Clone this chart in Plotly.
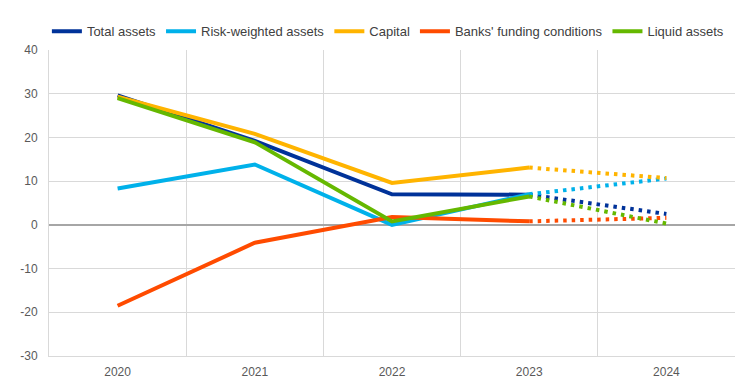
import plotly.graph_objects as go

years = ["2020", "2021", "2022", "2023", "2024"]
total_assets = [29.6, 19.2, 7.0, 6.9, 2.5]
risk_weighted = [8.3, 13.8, 0.0, 7.0, 10.6]
capital = [29.3, 20.8, 9.6, 13.1, 10.7]
funding = [-18.5, -4.1, 1.8, 0.8, 1.6]
liquid = [29.0, 18.9, 0.8, 6.5, 0.3]

y_tickvals = [-30, -20, -10, 0, 10, 20, 30, 40]
y_ticktext = ["-30", "-20", "-10", "0", "10", "20", "30", "40"]

names = ["Total assets", "Risk-weighted assets", "Capital", "Banks' funding conditions", "Liquid assets"]
colors = ["#003299", "#00b1ea", "#ffb400", "#ff4b00", "#65b800"]
series = [total_assets, risk_weighted, capital, funding, liquid]

fig = go.Figure()
for name, col, vals in zip(names, colors, series):
    fig.add_trace(go.Scatter(x=years[:4], y=vals[:4], mode="lines", name=name,
                             line=dict(color=col, width=4)))
for name, col, vals in zip(names, colors, series):
    fig.add_trace(go.Scatter(x=years[3:], y=vals[3:], mode="lines", name=name, showlegend=False,
                             line=dict(color=col, width=4, dash="3.5px,5px")))

fig.update_layout(
    width=736, height=375,
    margin=dict(l=41, r=9, t=42, b=27, autoexpand=False),
    plot_bgcolor="white", paper_bgcolor="white",
    font=dict(family="Liberation Sans, Arial", size=12, color="#595959"),
    showlegend=True,
    legend=dict(orientation="h", x=0.494, xanchor="center", y=1.012, yanchor="bottom",
                font=dict(family="Liberation Sans, Arial", size=13, color="#404040"),
                itemwidth=30, tracegroupgap=0, bgcolor="rgba(0,0,0,0)"),
)
fig.update_xaxes(type="category", range=[-0.5, 4.5], tickson="boundaries",
                 showgrid=True, gridcolor="#d9d9d9", gridwidth=1,
                 showline=True, linecolor="#d9d9d9", mirror=False, ticks="", ticklen=0,
                 ticklabelstandoff=5)
fig.update_yaxes(range=[-30, 40], tickvals=y_tickvals, ticktext=y_ticktext,
                 showgrid=True, gridcolor="#d9d9d9", gridwidth=1,
                 zeroline=True, zerolinecolor="#a6a6a6", zerolinewidth=2,
                 showline=True, linecolor="#d9d9d9", ticks="", ticklabelstandoff=8)

fig.write_html("out.html")
